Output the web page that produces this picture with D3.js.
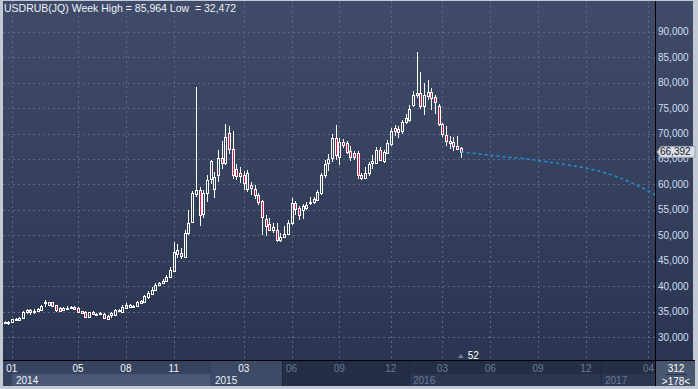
<!DOCTYPE html>
<html>
<head>
<meta charset="utf-8">
<script src="https://cdn.jsdelivr.net/npm/d3@7"></script>
<style>
  body { margin: 0; background: #c3cad5; }
  svg { display: block; font-family: "Liberation Sans", Arial, sans-serif; }
</style>
</head>
<body>
<svg id="chart" width="698" height="389"></svg>
<script>
// Weekly USDRUB candles (values in roubles)
const opens = [32.80, 33.00, 33.00, 33.50, 33.30, 33.80, 34.90, 35.30, 35.00, 35.20,
  35.30, 36.80, 36.30, 36.90, 36.30, 35.80, 35.30, 35.75, 35.80, 36.00,
  35.80, 35.10, 35.00, 34.00, 35.00, 34.55, 34.65, 34.60, 34.10, 34.30,
  34.40, 35.10, 35.00, 35.80, 36.00, 36.15, 36.10, 36.80, 36.90, 37.80,
  38.40, 39.20, 40.30, 40.60, 41.00, 41.90, 43.00, 46.30, 46.60, 45.80,
  50.40, 52.70, 58.20, 58.90, 54.20, 58.40, 61.00, 59.20, 61.80, 65.10,
  64.20, 70.20, 67.00, 63.00, 62.20, 61.80, 59.10, 59.80, 59.20, 57.90,
  56.70, 53.30, 52.20, 51.00, 51.00, 49.10, 49.60, 50.20, 52.40, 56.30,
  55.30, 55.00, 55.30, 56.40, 56.60, 57.00, 58.40, 61.80, 64.20, 65.10,
  69.10, 65.40, 68.40, 68.10, 66.60, 66.10, 66.10, 61.80, 61.20, 62.30,
  64.20, 64.20, 66.80, 64.60, 66.20, 67.90, 71.00, 70.90, 70.50, 72.20,
  72.70, 75.60, 77.60, 77.90, 75.40, 77.40, 78.20, 77.20, 75.40, 71.90,
  69.80, 68.20, 68.40, 67.60, 67.10];
const highs = [33.10, 33.10, 33.60, 33.70, 34.00, 35.10, 35.60, 35.60, 35.50, 35.80,
  36.40, 37.30, 37.00, 37.00, 36.40, 35.90, 35.90, 36.10, 36.20, 36.20,
  35.90, 35.20, 35.10, 35.00, 35.20, 34.80, 34.90, 34.70, 34.30, 34.90,
  35.60, 35.50, 36.30, 36.70, 36.50, 36.40, 37.10, 37.40, 38.30, 39.00,
  39.80, 40.60, 40.90, 41.50, 42.30, 43.80, 48.70, 48.40, 47.50, 51.00,
  55.00, 58.80, 79.20, 59.50, 59.00, 61.80, 64.80, 62.50, 66.80, 68.50,
  71.80, 71.40, 70.50, 64.00, 63.50, 62.70, 62.80, 60.50, 59.80, 58.30,
  57.00, 54.00, 53.50, 52.50, 52.50, 50.50, 51.80, 53.00, 57.30, 56.80,
  55.80, 56.20, 56.50, 57.60, 57.60, 59.00, 62.30, 64.80, 66.00, 70.00,
  71.70, 69.20, 69.00, 68.50, 67.60, 66.60, 66.50, 62.20, 63.50, 64.50,
  65.80, 67.30, 67.30, 66.80, 68.80, 71.00, 71.60, 71.50, 72.60, 73.80,
  75.60, 78.30, 85.964, 82.10, 80.00, 80.60, 79.00, 77.60, 75.80, 72.00,
  71.50, 69.50, 69.40, 69.50, 67.30];
const lows = [32.70, 32.472, 32.90, 33.40, 33.20, 33.70, 34.60, 34.40, 34.60, 35.00,
  35.20, 35.90, 36.20, 36.00, 35.00, 35.00, 35.10, 35.50, 35.70, 35.40,
  34.90, 34.60, 33.90, 33.90, 34.40, 34.40, 34.50, 33.60, 33.40, 33.80,
  34.20, 34.90, 34.90, 35.70, 35.90, 36.00, 35.90, 36.50, 36.80, 37.60,
  38.30, 39.00, 40.10, 40.40, 40.90, 41.70, 42.80, 45.60, 45.30, 45.50,
  50.00, 52.50, 57.50, 51.80, 53.50, 56.50, 60.00, 57.30, 60.50, 63.00,
  63.80, 66.00, 61.00, 60.80, 60.20, 59.00, 58.50, 58.00, 57.20, 56.00,
  50.00, 49.80, 50.80, 50.50, 48.70, 48.70, 49.50, 50.00, 52.00, 54.00,
  53.10, 53.20, 55.00, 56.00, 56.20, 56.80, 58.00, 61.20, 62.60, 64.50,
  64.80, 63.80, 67.20, 66.00, 64.70, 64.80, 61.00, 60.80, 61.00, 61.60,
  63.00, 64.00, 64.60, 64.30, 65.90, 67.60, 69.60, 69.10, 70.00, 71.80,
  72.20, 75.20, 77.00, 74.80, 73.60, 76.50, 74.60, 73.80, 71.50, 69.40,
  67.50, 67.00, 66.50, 66.80, 65.10];
const closes = [33.00, 32.90, 33.50, 33.60, 33.80, 34.90, 35.30, 35.00, 35.20, 35.60,
  36.20, 36.90, 36.90, 36.20, 35.30, 35.20, 35.70, 35.80, 36.00, 35.60,
  35.00, 34.70, 34.00, 34.90, 34.60, 34.60, 34.70, 33.80, 33.60, 34.70,
  35.30, 35.40, 36.00, 36.40, 36.40, 36.20, 37.00, 37.20, 38.00, 38.70,
  39.30, 40.30, 40.60, 41.00, 41.90, 43.20, 46.80, 47.20, 45.90, 50.40,
  52.50, 58.30, 59.00, 54.00, 58.40, 60.90, 64.60, 61.50, 65.10, 64.20,
  69.40, 66.90, 61.80, 61.60, 61.60, 60.20, 62.20, 59.30, 57.90, 56.60,
  53.60, 51.90, 51.00, 51.60, 49.10, 49.70, 50.20, 52.40, 56.30, 55.10,
  54.00, 55.80, 56.00, 56.60, 57.10, 58.60, 61.80, 64.00, 65.00, 69.10,
  65.80, 68.40, 67.70, 66.40, 65.40, 65.40, 61.80, 61.20, 62.30, 64.00,
  64.60, 66.80, 64.80, 66.40, 68.10, 70.40, 70.40, 70.30, 72.20, 73.00,
  74.80, 77.60, 77.90, 75.40, 77.60, 78.20, 76.90, 76.20, 71.90, 70.00,
  68.50, 68.60, 67.60, 67.00, 66.392];

// Dotted projection after the last candle (bar index -> value)
const forecastBars = [124, 130, 136, 142, 148, 154, 160, 166, 172, 177];
const forecastValues = [66.392, 65.9, 65.4, 65.0, 64.4, 63.7, 62.9, 61.6, 59.8, 57.9];

// Axis labels
const yTicks = [30, 35, 40, 45, 50, 55, 60, 65, 70, 75, 80, 85, 90];
const monthLabels = ["01", "05", "08", "11", "03", "06", "09", "12", "03", "06", "09", "12", "04"];
const monthBars = [2, 20, 33, 46, 65, 78, 91, 105, 119, 132, 145, 158, 175];
const yearLabels = ["2014", "2015", "2016", "2017"];
const yearBars = [2, 56, 110, 162];
const titleText = "USDRUB(JQ) Week";
const weekLabel = "52";
const countLabels = ["312", ">178<"];

// Layout
const plot = { left: 3, top: 1, right: 655, bottom: 360 };
const axisBar = { top: 361, bottom: 386 };
const litUntilBar = 75.4; // bottom bar is highlighted up to this bar

const ruLocale = d3.formatLocale({ decimal: ",", thousands: ".", grouping: [3], currency: ["", ""] });
const fmt = ruLocale.format(".3f");

const xScale = d3.scaleLinear()
  .domain([0, 124])
  .range([4.5, 460.8]);

const yScale = d3.scaleLinear()
  .domain([30, 90])
  .range([337.2, 31.7]);

const svg = d3.select("#chart");

// Background gradient
const defs = svg.append("defs");
const grad = defs.append("linearGradient")
  .attr("id", "bg")
  .attr("x1", 0).attr("y1", 0).attr("x2", 0).attr("y2", 1);
grad.append("stop").attr("offset", "0%").attr("stop-color", "#3f4b68");
grad.append("stop").attr("offset", "100%").attr("stop-color", "#2a3651");

// Outer frame
svg.append("rect")
  .attr("width", 698).attr("height", 389)
  .attr("fill", "#c3cad5");

svg.append("rect")
  .attr("x", plot.left).attr("y", plot.top)
  .attr("width", 693 - plot.left).attr("height", plot.bottom - plot.top)
  .attr("fill", "url(#bg)");

// Bottom time bar
const xBar = axisBar.top;
const midRow = 374;
svg.append("rect")
  .attr("x", plot.left).attr("y", xBar)
  .attr("width", plot.right - plot.left).attr("height", axisBar.bottom - xBar)
  .attr("fill", "#242e47");

const litX = xScale(litUntilBar);
svg.append("rect")
  .attr("x", plot.left).attr("y", xBar)
  .attr("width", litX - plot.left).attr("height", axisBar.bottom - xBar)
  .attr("fill", "#36435e");

// Year boxes in the lower row
const yearBoxes = yearLabels.map((label, i) => {
  const x0 = xScale(yearBars[i]);
  const x1 = i < yearBars.length - 1 ? xScale(yearBars[i + 1]) : plot.right;
  return { label, x0, x1, lit: x0 < litX };
});

svg.append("g").selectAll("rect")
  .data(yearBoxes)
  .join("rect")
  .attr("x", d => Math.round(d.x0))
  .attr("y", d => d.label === "2015" ? xBar : midRow)
  .attr("width", d => Math.min(d.x1, d.lit ? litX : d.x1) - Math.round(d.x0))
  .attr("height", d => d.label === "2015" ? axisBar.bottom - xBar : axisBar.bottom - midRow)
  .attr("fill", d => d.label === "2015" ? "#3d4a66" : (d.lit ? "#4a5875" : "#2c3752"));

svg.append("line")
  .attr("x1", Math.round(litX) + 0.5).attr("x2", Math.round(litX) + 0.5)
  .attr("y1", xBar).attr("y2", axisBar.bottom)
  .attr("stroke", "#1c2438");

svg.append("g").selectAll("line")
  .data(yearBoxes.slice(2))
  .join("line")
  .attr("x1", d => Math.round(d.x0) + 0.5).attr("x2", d => Math.round(d.x0) + 0.5)
  .attr("y1", xBar).attr("y2", axisBar.bottom)
  .attr("stroke", "#1f2840");

svg.append("g").selectAll("text")
  .data(yearBoxes)
  .join("text")
  .attr("x", d => Math.round(d.x0) + 4)
  .attr("y", 384)
  .attr("font-size", 10)
  .attr("fill", d => d.lit ? "#eef2fa" : "#6b7995")
  .text(d => d.label);

// Month labels
svg.append("g").selectAll("text")
  .data(monthLabels)
  .join("text")
  .attr("x", (d, i) => xScale(monthBars[i]))
  .attr("y", 372)
  .attr("text-anchor", "middle")
  .attr("font-size", 10)
  .attr("fill", (d, i) => xScale(monthBars[i]) < litX ? "#eef2fa" : "#6b7995")
  .text(d => d);

// Grid
const grid = svg.append("g")
  .attr("stroke", "#5a6886")
  .attr("stroke-dasharray", "2,3")
  .attr("shape-rendering", "crispEdges");

grid.selectAll(".hgrid")
  .data(yTicks)
  .join("line")
  .attr("class", "hgrid")
  .attr("x1", plot.left).attr("x2", plot.right)
  .attr("y1", d => Math.round(yScale(d)) + 0.5)
  .attr("y2", d => Math.round(yScale(d)) + 0.5);

grid.selectAll(".vgrid")
  .data(monthBars)
  .join("line")
  .attr("class", "vgrid")
  .attr("x1", d => Math.round(xScale(d)) + 0.5)
  .attr("x2", d => Math.round(xScale(d)) + 0.5)
  .attr("y1", plot.top).attr("y2", plot.bottom);

// Y axis labels on the right
svg.append("g").selectAll("text")
  .data(yTicks)
  .join("text")
  .attr("x", 658)
  .attr("y", d => yScale(d) + 3.5)
  .attr("font-size", 10)
  .attr("fill", "#d3def2")
  .text(d => fmt(d));

// Candles
const candles = opens.map((o, i) => ({
  i, o, h: highs[i], l: lows[i], c: closes[i]
}));

const cg = svg.append("g")
  .attr("shape-rendering", "crispEdges")
  .selectAll("g")
  .data(candles)
  .join("g");

const px = d => Math.round(xScale(d.i));
const yTop = d => Math.round(yScale(Math.max(d.o, d.c)));
const yBot = d => Math.round(yScale(Math.min(d.o, d.c)));

cg.append("line")
  .attr("x1", d => px(d) + 0.5).attr("x2", d => px(d) + 0.5)
  .attr("y1", d => Math.round(yScale(d.h)))
  .attr("y2", d => yTop(d))
  .attr("stroke", "#ffffff");

cg.append("line")
  .attr("x1", d => px(d) + 0.5).attr("x2", d => px(d) + 0.5)
  .attr("y1", d => yBot(d) + 1)
  .attr("y2", d => Math.round(yScale(d.l)))
  .attr("stroke", "#ffffff");

cg.append("rect")
  .attr("x", d => px(d) - 0.5)
  .attr("y", d => yTop(d) + 0.5)
  .attr("width", 2)
  .attr("height", d => Math.max(1, yBot(d) - yTop(d)))
  .attr("fill", d => d.c < d.o ? "#e3113d" : "none")
  .attr("stroke", "#ffffff");

// Projection line
const forecast = forecastBars.map((b, i) => ({ b, v: forecastValues[i] }));
svg.append("path")
  .datum(forecast)
  .attr("fill", "none")
  .attr("stroke", "#1d93d6")
  .attr("stroke-width", 1.5)
  .attr("stroke-dasharray", "3,3")
  .attr("d", d3.line()
    .x(d => xScale(d.b))
    .y(d => yScale(d.v))
    .curve(d3.curveMonotoneX));

// Week marker under the last candle
const lastX = xScale(candles.length - 1);
svg.append("path")
  .attr("d", `M${lastX - 3},358 L${lastX},354 L${lastX + 3},358 Z`)
  .attr("fill", "#6f7d96");
svg.append("text")
  .attr("x", lastX + 7).attr("y", 358.5)
  .attr("font-size", 10)
  .attr("fill", "#ffffff")
  .text(weekLabel);

// Separators
svg.append("line")
  .attr("x1", plot.left).attr("x2", 695)
  .attr("y1", plot.bottom + 0.5).attr("y2", plot.bottom + 0.5)
  .attr("stroke", "#000000");
svg.append("line")
  .attr("x1", plot.right + 0.5).attr("x2", plot.right + 0.5)
  .attr("y1", plot.top).attr("y2", axisBar.bottom)
  .attr("stroke", "#000000");

// Bottom right counter box
svg.append("rect")
  .attr("x", plot.right + 1).attr("y", xBar)
  .attr("width", 695 - plot.right - 1).attr("height", axisBar.bottom - xBar)
  .attr("fill", "#48566f");
svg.append("line")
  .attr("x1", 666).attr("x2", 687)
  .attr("y1", 374.5).attr("y2", 374.5)
  .attr("stroke", "#2a3348");
svg.append("g").selectAll("text")
  .data(countLabels)
  .join("text")
  .attr("x", 676)
  .attr("y", (d, i) => i === 0 ? 372 : 384.5)
  .attr("text-anchor", "middle")
  .attr("font-size", 10)
  .attr("fill", "#ffffff")
  .text(d => d);

// Last price tag
const lastClose = closes[closes.length - 1];
const tagY = yScale(lastClose);
svg.append("path")
  .attr("d", `M657,${tagY} L661,${tagY - 5.5} L695,${tagY - 5.5} L695,${tagY + 5.5} L661,${tagY + 5.5} Z`)
  .attr("fill", "#d9dee6")
  .attr("stroke", "#9aa3b2");
svg.append("text")
  .attr("x", 660).attr("y", tagY + 3.5)
  .attr("font-size", 10)
  .attr("fill", "#141a26")
  .text(fmt(lastClose));

// Title
svg.append("text")
  .attr("x", 4).attr("y", 12)
  .attr("font-size", 10.5)
  .attr("fill", "#eef2fa")
  .attr("xml:space", "preserve")
  .text(`${titleText} High = ${fmt(d3.max(highs))} Low  = ${fmt(d3.min(lows))}`);
</script>
</body>
</html>
